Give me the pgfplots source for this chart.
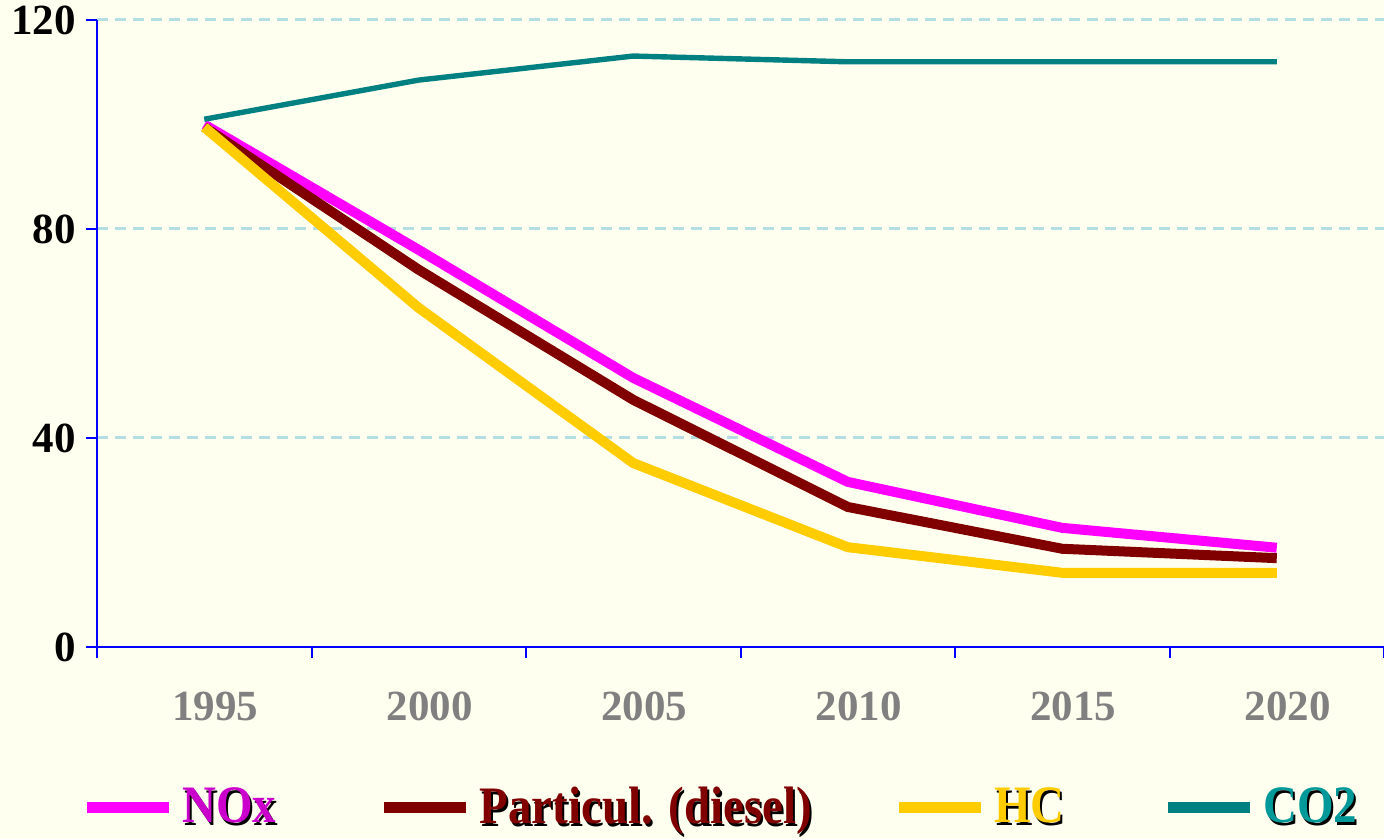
\documentclass[border=0pt]{standalone}
\usepackage{fontspec}
\setmainfont{Liberation Serif}
\usepackage{pgfplots}
\pgfplotsset{compat=1.18}

\definecolor{bgcream}{RGB}{255,255,240}
\definecolor{gridblue}{RGB}{180,222,226}
\definecolor{axblue}{RGB}{0,0,255}
\definecolor{yeargray}{RGB}{128,128,128}
\definecolor{noxline}{RGB}{255,0,255}
\definecolor{noxtext}{RGB}{204,0,204}
\definecolor{pmline}{RGB}{128,0,0}
\definecolor{hcline}{RGB}{255,204,0}
\definecolor{coline}{RGB}{0,128,128}
\definecolor{cotext}{RGB}{0,153,153}

% coloured text with a small black drop shadow
\newcommand{\shd}[2]{\scalebox{1}[1.12]{\makebox[0pt][l]{\hspace{1pt}\raisebox{-1pt}{\color{black}#2}}\textcolor{#1}{#2}}}

\begin{document}
\begin{tikzpicture}
\fill[bgcream] (-48.5pt,-96pt) rectangle (643.5pt,323.5pt);
\useasboundingbox (-48.5pt,-96pt) rectangle (643.5pt,323.5pt);
\begin{axis}[
  at={(0,0)}, anchor=south west,
  scale only axis, width=643.5pt, height=313.5pt,
  xmin=-0.5, xmax=5.5, ymin=0, ymax=120,
  axis x line=bottom, axis y line=left,
  axis line style={-, axblue, line width=1pt},
  tick align=outside, major tick length=5.5pt,
  tick style={axblue, line width=1pt},
  xtick={-0.5,0.5,1.5,2.5,3.5,4.5,5.5},
  xticklabels={,,,,,,},
  extra x ticks={0,1,2,3,4,5},
  extra x tick labels={1995,2000,2005,2010,2015,2020},
  extra x tick style={major tick length=0pt},
  ytick={40,80,120},
  extra y ticks={0},
  extra y tick style={grid=none},
  ymajorgrids,
  grid style={gridblue, line width=1.5pt, dash pattern=on 5.5pt off 3.5pt},
  /pgf/number format/assume math mode=true,
  tick label style={font=\fontsize{21.5}{21.5}\selectfont\bfseries},
  xticklabel style={text=yeargray, yshift=-19pt, xshift=5.5pt},
  yticklabel style={text=black, xshift=-1.5pt},
  legend columns=4,
  legend style={draw=none, fill=none, inner sep=0pt,
    font=\fontsize{23.5}{23.5}\selectfont\bfseries,
    at={(axis description cs:0,0)}, anchor=west,
    xshift=-8pt, yshift=-80pt,
    nodes={inner sep=0pt}, column sep=0pt},
  legend image code/.code={\draw[#1, line width=5.5pt, line cap=butt] (0pt,0pt) -- (41pt,0pt);},
]
\addplot[noxline, line width=5pt] coordinates {(0,100) (1,76) (2,51.5) (3,31.6) (4,22.8) (5,19.0)};
\addlegendentry{\hspace*{4pt}\makebox[98pt][l]{\shd{noxtext}{NOx}}}
\addplot[pmline, line width=5pt] coordinates {(0,99.5) (1,72.2) (2,47.3) (3,26.8) (4,18.8) (5,17.0)};
\addlegendentry{\hspace*{4pt}\makebox[207pt][l]{\shd{pmline}{Particul. (diesel)}}}
\addplot[hcline, line width=5pt] coordinates {(0,99.5) (1,64.9) (2,35.2) (3,19.1) (4,14.2) (5,14.2)};
\addlegendentry{\hspace*{4pt}\makebox[84pt][l]{\shd{hcline}{HC}}}
\addplot[coline, line width=2.7pt] coordinates {(0,101) (1,108.5) (2,113.1) (3,112) (4,112) (5,112)};
\addlegendentry{\hspace*{4pt}\makebox[50pt][l]{\shd{cotext}{CO2}}}
\end{axis}
\end{tikzpicture}
\end{document}
